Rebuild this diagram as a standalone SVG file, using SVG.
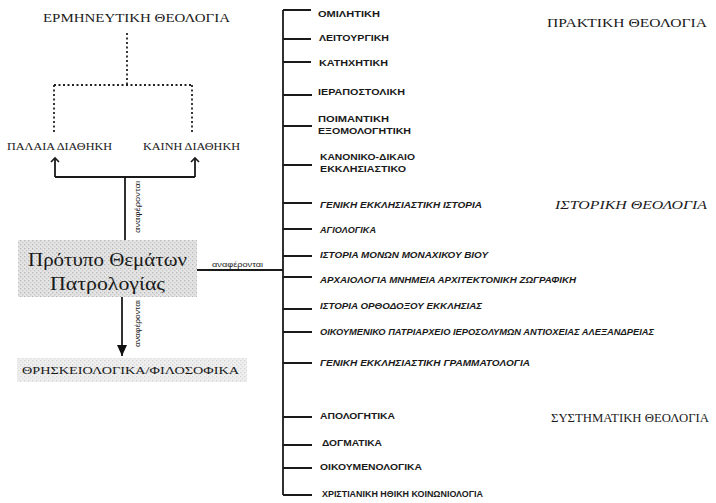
<svg xmlns="http://www.w3.org/2000/svg" width="716" height="503" viewBox="0 0 716 503">
<style>
.serif{font-family:"Liberation Serif","DejaVu Serif",serif;fill:#1a1a1a}
.item{font-family:"Liberation Sans","DejaVu Sans",sans-serif;font-weight:bold;font-size:9px;fill:#1a1a1a}
.it{font-style:italic}
.small{font-family:"Liberation Sans","DejaVu Sans",sans-serif;font-size:6.5px;fill:#222}
.line{stroke:#1a1a1a;stroke-width:1.8;fill:none}
.dot{stroke:#222;stroke-width:1.8;fill:none;stroke-dasharray:2 2.5}
</style>
<defs>
<pattern id="stip" width="4" height="4" patternUnits="userSpaceOnUse">
<rect width="4" height="4" fill="#e4e4e4"/>
<rect x="0" y="0" width="1.3" height="1.3" fill="#b8b8b8"/>
<rect x="2" y="2" width="1.3" height="1.3" fill="#c6c6c6"/>
</pattern>
<marker id="open" markerWidth="10" markerHeight="10" refX="5" refY="5" orient="auto" markerUnits="userSpaceOnUse">
<path d="M1,1 L5,5 L1,9" fill="none" stroke="#1a1a1a" stroke-width="1.6"/>
</marker>
<marker id="fill" markerWidth="12" markerHeight="12" refX="11" refY="5" orient="auto" markerUnits="userSpaceOnUse">
<path d="M0,0 L11,5 L0,10 Z" fill="#111"/>
</marker>
</defs>

<g id="connectors">
<path class="dot" d="M127,33 V85 M54,85 H193 M54,85 V133 M192,85 V133"/>
<path class="line" d="M55,177 H195"/>
<path class="line" d="M55,177 V158" marker-end="url(#open)"/>
<path class="line" d="M195,177 V158" marker-end="url(#open)"/>
<path class="line" d="M125,177 V241"/>
<path class="line" d="M122,297 V356" marker-end="url(#fill)" stroke-width="2"/>
<path class="line" d="M195,270 H283" stroke-width="2"/>
<path class="line" d="M283,10 V495" stroke-width="2"/>
<path class="line" d="M283,10 H311 M283,39 H311 M283,62 H311 M283,95 H312 M283,126 H312 M283,165 H312 M283,203 H312 M283,229 H312 M283,256 H312 M283,277 H312 M283,309 H312 M283,332 H312 M283,363 H312 M283,417 H312 M283,445 H312 M283,468 H312 M283,495 H312"/>
<text class="small" transform="translate(140,233) rotate(-90)" textLength="52" lengthAdjust="spacingAndGlyphs">αναφέρονται</text>
<text class="small" transform="translate(140,347) rotate(-90)" textLength="47" lengthAdjust="spacingAndGlyphs">αναφέρονται</text>
<text class="small" x="212" y="267" textLength="51" lengthAdjust="spacingAndGlyphs">αναφέρονται</text>
</g>

<g id="hermeneutics"><text class="serif" x="43" y="22" font-size="12" textLength="187" lengthAdjust="spacingAndGlyphs">ΕΡΜΗΝΕΥΤΙΚΗ ΘΕΟΛΟΓΙΑ</text></g>
<g id="old-testament"><text class="serif" x="7" y="150" font-size="11" textLength="105" lengthAdjust="spacingAndGlyphs">ΠΑΛΑΙΑ ΔΙΑΘΗΚΗ</text></g>
<g id="new-testament"><text class="serif" x="143" y="150" font-size="11" textLength="97" lengthAdjust="spacingAndGlyphs">ΚΑΙΝΗ ΔΙΑΘΗΚΗ</text></g>
<g id="center">
<rect x="18" y="240" width="179" height="57" fill="url(#stip)"/>
<text class="serif" x="28" y="266" font-size="19" textLength="159" lengthAdjust="spacingAndGlyphs">Πρότυπο Θεμάτων</text>
<text class="serif" x="50" y="290" font-size="19" textLength="115" lengthAdjust="spacingAndGlyphs">Πατρολογίας</text>
</g>
<g id="religious">
<rect x="17" y="358" width="230" height="24" fill="url(#stip)" opacity="0.6"/>
<text class="serif" x="22" y="374" font-size="11" textLength="217" lengthAdjust="spacingAndGlyphs">ΘΡΗΣΚΕΙΟΛΟΓΙΚΑ/ΦΙΛΟΣΟΦΙΚΑ</text>
</g>

<g id="practical-heading"><text class="serif" x="547" y="27" font-size="13.5" textLength="160" lengthAdjust="spacingAndGlyphs">ΠΡΑΚΤΙΚΗ ΘΕΟΛΟΓΙΑ</text></g>
<g id="historical-heading"><text class="serif it" x="555" y="209" font-size="13.5" textLength="152" lengthAdjust="spacingAndGlyphs">ΙΣΤΟΡΙΚΗ ΘΕΟΛΟΓΙΑ</text></g>
<g id="systematic-heading"><text class="serif" x="551" y="422" font-size="12" textLength="158" lengthAdjust="spacingAndGlyphs">ΣΥΣΤΗΜΑΤΙΚΗ ΘΕΟΛΟΓΙΑ</text></g>

<g id="item-1"><text class="item" x="318" y="17" textLength="62" lengthAdjust="spacingAndGlyphs">ΟΜΙΛΗΤΙΚΗ</text></g>
<g id="item-2"><text class="item" x="319" y="41" textLength="70" lengthAdjust="spacingAndGlyphs">ΛΕΙΤΟΥΡΓΙΚΗ</text></g>
<g id="item-3"><text class="item" x="319" y="66" textLength="69" lengthAdjust="spacingAndGlyphs">ΚΑΤΗΧΗΤΙΚΗ</text></g>
<g id="item-4"><text class="item" x="318" y="95" textLength="87" lengthAdjust="spacingAndGlyphs">ΙΕΡΑΠΟΣΤΟΛΙΚΗ</text></g>
<g id="item-5"><text class="item" x="318" y="122" textLength="71" lengthAdjust="spacingAndGlyphs">ΠΟΙΜΑΝΤΙΚΗ</text><text class="item" x="318" y="134" textLength="93" lengthAdjust="spacingAndGlyphs">ΕΞΟΜΟΛΟΓΗΤΙΚΗ</text></g>
<g id="item-6"><text class="item" x="320" y="160" textLength="95" lengthAdjust="spacingAndGlyphs">ΚΑΝΟΝΙΚΟ-ΔΙΚΑΙΟ</text><text class="item" x="320" y="172" textLength="86" lengthAdjust="spacingAndGlyphs">ΕΚΚΛΗΣΙΑΣΤΙΚΟ</text></g>
<g id="item-7"><text class="item it" x="320" y="208" textLength="162" lengthAdjust="spacingAndGlyphs">ΓΕΝΙΚΗ ΕΚΚΛΗΣΙΑΣΤΙΚΗ ΙΣΤΟΡΙΑ</text></g>
<g id="item-8"><text class="item it" x="320" y="233" textLength="56" lengthAdjust="spacingAndGlyphs">ΑΓΙΟΛΟΓΙΚΑ</text></g>
<g id="item-9"><text class="item it" x="320" y="258" textLength="168" lengthAdjust="spacingAndGlyphs">ΙΣΤΟΡΙΑ ΜΟΝΩΝ ΜΟΝΑΧΙΚΟΥ ΒΙΟΥ</text></g>
<g id="item-10"><text class="item it" x="320" y="283" textLength="256" lengthAdjust="spacingAndGlyphs">ΑΡΧΑΙΟΛΟΓΙΑ ΜΝΗΜΕΙΑ ΑΡΧΙΤΕΚΤΟΝΙΚΗ ΖΩΓΡΑΦΙΚΗ</text></g>
<g id="item-11"><text class="item it" x="320" y="309" textLength="162" lengthAdjust="spacingAndGlyphs">ΙΣΤΟΡΙΑ ΟΡΘΟΔΟΞΟΥ ΕΚΚΛΗΣΙΑΣ</text></g>
<g id="item-12"><text class="item it" x="320" y="335" textLength="334" lengthAdjust="spacingAndGlyphs">ΟΙΚΟΥΜΕΝΙΚΟ ΠΑΤΡΙΑΡΧΕΙΟ ΙΕΡΟΣΟΛΥΜΩΝ ΑΝΤΙΟΧΕΙΑΣ ΑΛΕΞΑΝΔΡΕΙΑΣ</text></g>
<g id="item-13"><text class="item it" x="320" y="366" textLength="210" lengthAdjust="spacingAndGlyphs">ΓΕΝΙΚΗ ΕΚΚΛΗΣΙΑΣΤΙΚΗ ΓΡΑΜΜΑΤΟΛΟΓΙΑ</text></g>
<g id="item-14"><text class="item" x="320" y="419" textLength="75" lengthAdjust="spacingAndGlyphs">ΑΠΟΛΟΓΗΤΙΚΑ</text></g>
<g id="item-15"><text class="item" x="322" y="446" textLength="60" lengthAdjust="spacingAndGlyphs">ΔΟΓΜΑΤΙΚΑ</text></g>
<g id="item-16"><text class="item" x="320" y="470" textLength="102" lengthAdjust="spacingAndGlyphs">ΟΙΚΟΥΜΕΝΟΛΟΓΙΚΑ</text></g>
<g id="item-17"><text class="item" x="322" y="497" textLength="161" lengthAdjust="spacingAndGlyphs">ΧΡΙΣΤΙΑΝΙΚΗ ΗΘΙΚΗ ΚΟΙΝΩΝΙΟΛΟΓΙΑ</text></g>
</svg>
